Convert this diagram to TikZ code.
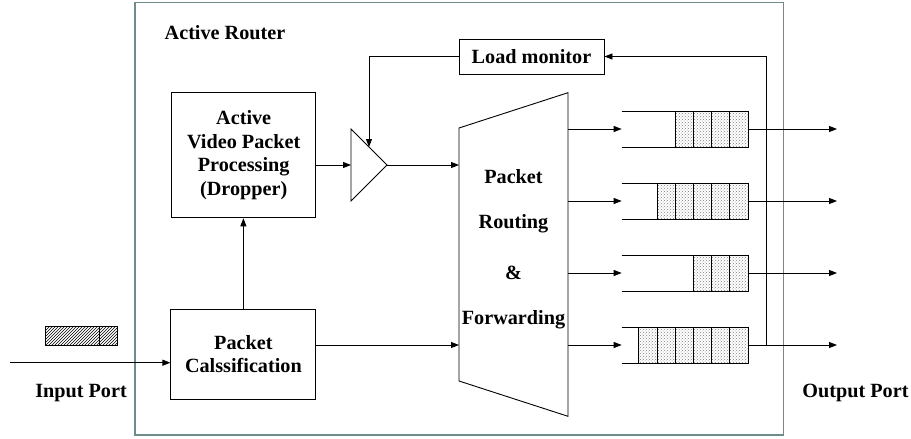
\documentclass[tikz,border=0pt]{standalone}
\usepackage{fontspec}
\setmainfont{Liberation Serif}
\usetikzlibrary{arrows.meta,patterns}
\definecolor{routercol}{RGB}{110,140,140}
\begin{document}
\begin{tikzpicture}[x=1pt,y=-1pt,
 every node/.style={font=\fontsize{20.2}{23.5}\selectfont\bfseries},
 box/.style={draw,line width=0.9pt,inner sep=0pt,align=center},
 conn/.style={line width=0.9pt,-{Triangle[length=8pt,width=6pt]}},
 plain/.style={line width=0.9pt},
 cell/.style={draw,line width=0.9pt,pattern=crosshatch dots,pattern color=gray},
 lbl/.style={inner sep=0pt}
]
\useasboundingbox (0,0) rectangle (911,439);
% router frame
\draw[routercol,line width=1.1pt] (135,2.7) rectangle (783.7,435);
\node[lbl] (title) at (225,33) {Active Router};

% boxes
\node[box,minimum width=144pt,minimum height=125pt] (avp) at (243.7,155.3) {Active\\Video Packet\\Processing\\(Dropper)};
\node[box,minimum width=145pt,minimum height=90pt] (pc) at (243.4,354) {Packet\\Calssification};
\node[box,minimum width=145pt,minimum height=35pt] (lm) at (531.5,56.5) {Load monitor};

% triangle
\draw[plain] (351,129) -- (387,165) -- (351,201) -- cycle;
\coordinate (triin) at (351,165);
\coordinate (triout) at (387,165);
\coordinate (tritop) at (369,147);

% trapezoid
\draw[plain] (459,128) -- (568,92.7) -- (568,416.3) -- (459,381) -- cycle;
\node[lbl] (tp1) at (513.5,177) {Packet};
\node[lbl] (tp2) at (513.5,224) {Routing};
\node[lbl] (tp3) at (513.5,273) {\&};
\node[lbl] (tp4) at (513.5,320) {Forwarding};
\coordinate (trin1) at (459,165);
\coordinate (trin2) at (459,345);

% queues
\foreach \y/\n [count=\i] in {129/4,201/5,273/3,345/6} {
  \pgfmathsetmacro\xs{748-18.2*\n}
  \draw[plain] (621.7,\y-18) -- (\xs,\y-18);
  \draw[plain] (621.7,\y+18) -- (\xs,\y+18);
  \foreach \k in {1,...,\n} \draw[cell] (748-18.2*\k,\y-18) rectangle ++(18.2,36);
  \coordinate (qin\i) at (621.7,\y);
  \coordinate (qout\i) at (748,\y);
  \coordinate (tout\i) at (568,\y);
  \coordinate (oend\i) at (837,\y);
  \draw[conn] (tout\i) -- (qin\i);
  \draw[conn] (qout\i) -- (oend\i);
}

% feedback
\coordinate (fb) at (766,345);
\draw[conn] (fb) |- (lm.east);
\draw[conn] (lm.west) -| (tritop);

% connectors
\draw[conn] (triin -| avp.east) -- (triin);
\draw[conn] (triout) -- (trin1);
\draw[conn] (pc.north) -- (pc.north |- avp.south);
\draw[conn] (trin2 -| pc.east) -- (trin2);
\coordinate (inp) at (10,362.7);
\draw[conn] (inp) -- (inp -| pc.west);

% input packet
\draw[line width=0.8pt,pattern=north east lines] (45,326) rectangle (117,345);
\draw[line width=0.8pt] (99,326) -- (99,345);

% port labels
\node[lbl] (inlbl) at (81,393) {Input Port};
\node[lbl] (outlbl) at (855.5,393) {Output Port};
\end{tikzpicture}
\end{document}
